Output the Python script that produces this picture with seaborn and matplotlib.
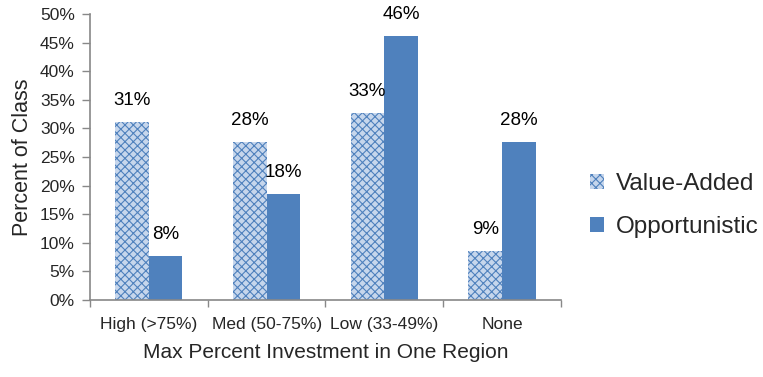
import matplotlib
matplotlib.use("Agg")
import matplotlib.pyplot as plt
import seaborn as sns
import pandas as pd
import numpy as np
from matplotlib.patches import Patch

categories = ["High (>75%)", "Med (50-75%)", "Low (33-49%)", "None"]
value_added = [31.1, 27.6, 32.7, 8.6]
opportunistic = [7.7, 18.5, 46.2, 27.6]
series_names = ["Value-Added", "Opportunistic"]
y_ticks = [0, 5, 10, 15, 20, 25, 30, 35, 40, 45, 50]

sns.set_theme(style="white")
plt.rcParams["font.family"] = ["Liberation Sans", "DejaVu Sans"]
plt.rcParams["hatch.linewidth"] = 0.8

df = pd.DataFrame({
    "category": categories * 2,
    "series": [series_names[0]] * 4 + [series_names[1]] * 4,
    "value": value_added + opportunistic,
})

fig = plt.figure(figsize=(7.63, 3.77), dpi=100)
ax = fig.add_axes([0.118, 0.204, 0.617, 0.759])

blue = "#4f81bd"
light = "#c6d6ec"
sns.barplot(data=df, x="category", y="value", hue="series",
            palette=[blue, blue], width=0.57, ax=ax, legend=False,
            saturation=1)

n = len(categories)
for i, p in enumerate(ax.patches[:2 * n]):
    p.set_linewidth(0)
    if i < n:
        p.set_facecolor(light)
        p.set_edgecolor(blue)
        p.set_hatch("xxxx")
    vals = value_added if i < n else opportunistic
    v = vals[i % n]
    ax.text(p.get_x() + p.get_width() / 2, p.get_height() + 2.3,
            f"{v:.0f}%", ha="center", va="bottom", fontsize=13.5,
            color="black")

ax.set_ylim(0, 50)
ax.set_xlim(-0.5, n - 0.5)
ax.set_yticks(y_ticks)
ax.set_yticklabels([f"{t}%" for t in y_ticks], fontsize=12.5)
ax.set_xticks(range(n))
ax.set_xticklabels(categories, fontsize=12.5)
ax.set_xticks(np.arange(-0.5, n, 1.0), minor=True)
ax.tick_params(axis="x", which="major", length=0, pad=12)
ax.tick_params(axis="x", which="minor", length=5, width=1, color="#888888",
               direction="out", bottom=True)
ax.tick_params(axis="y", length=6, width=1, color="#888888",
               direction="out", left=True, pad=5)
for s in ["top", "right"]:
    ax.spines[s].set_visible(False)
for s in ["left", "bottom"]:
    ax.spines[s].set_color("#888888")
    ax.spines[s].set_linewidth(1.2)

ax.set_xlabel("Max Percent Investment in One Region", fontsize=15, labelpad=8)
ax.set_ylabel("Percent of Class", fontsize=15.5, labelpad=5)

handles = [
    Patch(facecolor=light, edgecolor=blue, hatch="xxxx", linewidth=0),
    Patch(facecolor=blue, linewidth=0),
]
fig.legend(handles, series_names, loc="center left",
           bbox_to_anchor=(0.745, 0.455), frameon=False, fontsize=17.5,
           handlelength=0.55, handleheight=0.55, handletextpad=0.5,
           labelspacing=0.85)

fig.savefig("out.png", dpi=100)
